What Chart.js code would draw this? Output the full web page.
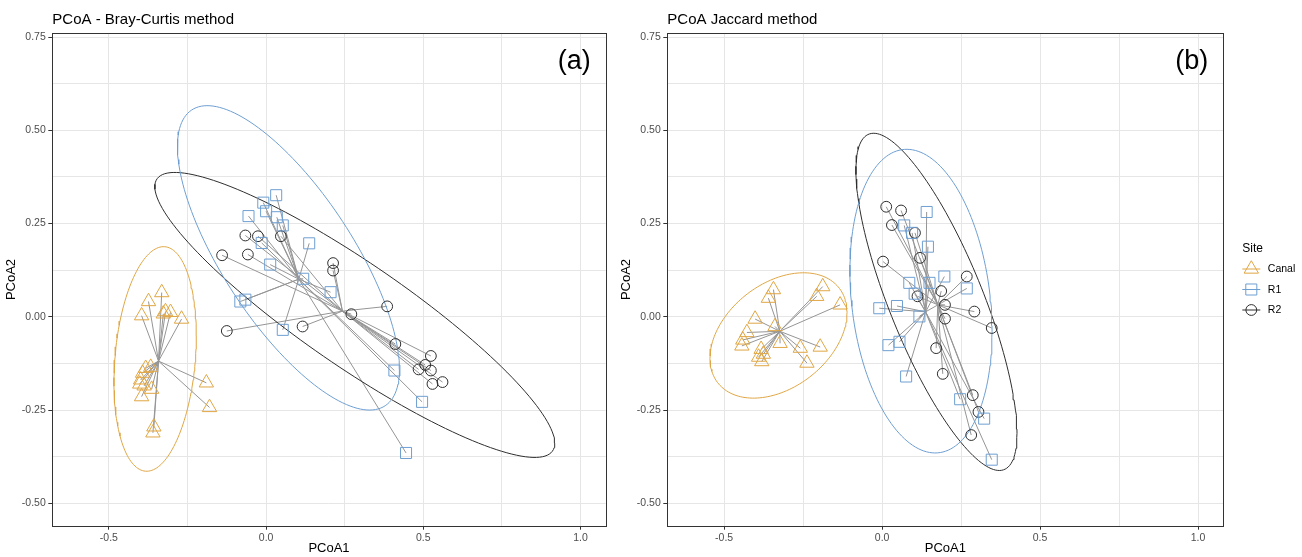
<!DOCTYPE html>
<html><head><meta charset="utf-8">
<script src="https://cdn.jsdelivr.net/npm/chart.js@4.4.1/dist/chart.umd.min.js"></script>
<style>
html,body{margin:0;padding:0;background:#fff;}
#wrap{position:relative;width:1302px;height:557px;overflow:hidden;}
canvas{position:absolute;top:0;}
#c1{left:0;}
#c2{left:615px;}
</style></head><body>
<div id="wrap">
<canvas id="c1" width="615" height="557"></canvas>
<canvas id="c2" width="687" height="557"></canvas>
</div>
<script>
// ---------- data ----------
const groups = ['Canal', 'R1', 'R2'];

// Panel (a) PCoA - Bray-Curtis
const bcCanalX = [-0.332,-0.374,-0.396,-0.320,-0.304,-0.327,-0.269,-0.383,-0.367,-0.393,-0.399,-0.402,-0.388,-0.364,-0.396,-0.190,-0.180,-0.357,-0.360];
const bcCanalY = [0.065,0.041,0.003,0.014,0.012,0.008,-0.006,-0.138,-0.135,-0.151,-0.169,-0.180,-0.185,-0.194,-0.214,-0.177,-0.243,-0.295,-0.311];
const bcR1X = [0.032,-0.009,0.000,-0.056,0.034,0.053,-0.014,0.137,0.013,0.118,0.205,-0.082,-0.066,0.053,0.408,0.496,0.445];
const bcR1Y = [0.326,0.306,0.283,0.270,0.267,0.245,0.198,0.197,0.140,0.102,0.066,0.041,0.046,-0.035,-0.144,-0.228,-0.365];
const bcR2X = [-0.066,-0.026,0.047,-0.140,-0.058,0.213,0.213,0.385,0.271,-0.125,0.116,0.411,0.524,0.506,0.485,0.524,0.561,0.529];
const bcR2Y = [0.218,0.216,0.216,0.165,0.167,0.144,0.124,0.028,0.007,-0.038,-0.026,-0.073,-0.105,-0.129,-0.141,-0.144,-0.175,-0.180];
// 95% ellipses (Canal, R1, R2): centre, half x-range, half y-range, correlation
const bcEllCX = [-0.353, 0.071, 0.282];
const bcEllCY = [-0.113, 0.158, 0.005];
const bcEllHX = [0.131, 0.353, 0.636];
const bcEllHY = [0.301, 0.408, 0.382];
const bcEllR  = [0.205, -0.731, -0.90];

// Panel (b) PCoA Jaccard
const jcCanalX = [-0.344,-0.360,-0.188,-0.207,-0.133,-0.402,-0.339,-0.428,-0.441,-0.444,-0.323,-0.259,-0.196,-0.383,-0.376,-0.391,-0.381,-0.238];
const jcCanalY = [0.073,0.050,0.081,0.055,0.032,-0.006,-0.026,-0.042,-0.062,-0.078,-0.071,-0.084,-0.081,-0.087,-0.100,-0.108,-0.120,-0.124];
const jcR1X = [0.141,0.070,0.095,0.145,0.197,0.086,0.150,0.268,0.103,0.047,-0.009,0.118,0.055,0.020,0.076,0.247,0.323,0.347];
const jcR1Y = [0.281,0.245,0.225,0.188,0.108,0.091,0.091,0.076,0.062,0.029,0.023,0.001,-0.067,-0.076,-0.160,-0.221,-0.273,-0.383];
const jcR2X = [0.013,0.060,0.031,0.104,0.120,0.003,0.268,0.187,0.112,0.199,0.292,0.199,0.347,0.171,0.192,0.287,0.305,0.282];
const jcR2Y = [0.295,0.285,0.246,0.225,0.158,0.148,0.108,0.069,0.055,0.032,0.014,-0.005,-0.030,-0.084,-0.153,-0.210,-0.255,-0.317];
const jcEllCX = [-0.328, 0.123, 0.172];
const jcEllCY = [-0.050, 0.042, 0.040];
const jcEllHX = [0.217, 0.225, 0.255];
const jcEllHY = [0.168, 0.407, 0.452];
const jcEllR  = [0.365, -0.20, -0.78];

// axes
const xTickValues = [-0.5, -0.25, 0, 0.25, 0.5, 0.75, 1.0];
const xTickLabels = ['-0.5', '', '0.0', '', '0.5', '', '1.0'];
const yTickValues = [-0.5, -0.375, -0.25, -0.125, 0, 0.125, 0.25, 0.375, 0.5, 0.625, 0.75];
const yTickLabels = ['-0.50', '', '-0.25', '', '0.00', '', '0.25', '', '0.50', '', '0.75'];

// ---------- styling ----------
const FONT = '"Liberation Sans", Arial, Helvetica, sans-serif';
const groupColors = ['#E0A644', '#6E9FD2', '#2E2E2E'];
const groupShapes = ['triangle', 'rect', 'circle'];
const groupRadius = [8.3, 7.8, 5.4];

function zip(xs, ys) { return xs.map((x, i) => ({x: x, y: ys[i]})); }
function mean(a) { return a.reduce((s, v) => s + v, 0) / a.length; }
function spider(xs, ys) {
  const cx = mean(xs), cy = mean(ys);
  const out = [];
  xs.forEach((x, i) => { out.push({x: x, y: ys[i]}, {x: cx, y: cy}, {x: null, y: null}); });
  return out;
}
function ellipse(cx, cy, hx, hy, r) {
  const pts = [], k = Math.sqrt(1 - r * r), n = 160;
  for (let i = 0; i <= n; i++) {
    const t = 2 * Math.PI * i / n;
    pts.push({x: cx + hx * Math.cos(t), y: cy + hy * (r * Math.cos(t) + k * Math.sin(t))});
  }
  return pts;
}

function buildDatasets(X, Y, E) {
  const ds = [];
  groups.forEach((g, i) => {
    ds.push({label: g + ' spider', data: spider(X[i], Y[i]), showLine: true, pointRadius: 0,
      borderColor: '#959595', borderWidth: 1, order: 3});
  });
  groups.forEach((g, i) => {
    ds.push({label: g + ' ellipse', data: ellipse(E.cx[i], E.cy[i], E.hx[i], E.hy[i], E.r[i]), showLine: true,
      pointRadius: 0, borderColor: groupColors[i], borderWidth: 1, tension: 0, order: 2});
  });
  groups.forEach((g, i) => {
    ds.push({label: g, data: zip(X[i], Y[i]), showLine: false, pointStyle: groupShapes[i],
      pointRadius: groupRadius[i], pointBorderColor: groupColors[i], pointBackgroundColor: 'rgba(0,0,0,0)',
      pointBorderWidth: 1, order: 1});
  });
  return ds;
}

const isMajorX = v => Math.abs(v * 2 - Math.round(v * 2)) < 1e-9;
const isMajorY = v => Math.abs(v * 4 - Math.round(v * 4)) < 1e-9;

const framePlugin = {
  id: 'frame',
  afterDraw(chart, args, opts) {
    const {ctx, chartArea: a} = chart;
    ctx.save();
    ctx.strokeStyle = '#333333';
    ctx.lineWidth = 1;
    ctx.strokeRect(Math.round(a.left) + 0.5, Math.round(a.top) + 0.5, Math.round(a.right) - Math.round(a.left), Math.round(a.bottom) - Math.round(a.top));
    ctx.fillStyle = '#000';
    ctx.font = '27px ' + FONT;
    ctx.textAlign = 'right';
    ctx.textBaseline = 'middle';
    ctx.fillText(opts.label, a.right - 15, a.top + 28);
    if (opts.legend) {
      const lx = a.right + 19;
      ctx.textAlign = 'left';
      ctx.font = '12px ' + FONT;
      ctx.fillText('Site', lx, 249);
      const rows = [269, 289.5, 310];
      groups.forEach((g, i) => {
        const cx = lx + 9, cy = rows[i];
        ctx.strokeStyle = groupColors[i];
        ctx.lineWidth = 1;
        ctx.beginPath(); ctx.moveTo(lx, cy); ctx.lineTo(lx + 18, cy); ctx.stroke();
        ctx.beginPath();
        const r = groupRadius[i];
        if (groupShapes[i] === 'triangle') {
          for (let k = 0; k < 3; k++) {
            const ang = k * 2 * Math.PI / 3;
            const px = cx + Math.sin(ang) * r, py = cy - Math.cos(ang) * r;
            if (k === 0) ctx.moveTo(px, py); else ctx.lineTo(px, py);
          }
          ctx.closePath();
        } else if (groupShapes[i] === 'rect') {
          const s = r * Math.SQRT1_2;
          ctx.rect(cx - s, cy - s, 2 * s, 2 * s);
        } else {
          ctx.arc(cx, cy, r, 0, 2 * Math.PI);
        }
        ctx.stroke();
        ctx.fillStyle = '#000';
        ctx.font = '10.5px ' + FONT;
        ctx.textBaseline = 'middle';
        ctx.fillText(g, lx + 25.5, cy + 0.5);
      });
    }
    ctx.restore();
  }
};

function makeChart(id, title, label, X, Y, E, padRight, legend) {
  return new Chart(document.getElementById(id), {
    type: 'scatter',
    data: {datasets: buildDatasets(X, Y, E)},
    plugins: [framePlugin],
    options: {
      responsive: false,
      animation: false,
      events: [],
      layout: {padding: {left: 0, right: padRight, top: 0, bottom: 0}},
      plugins: {
        legend: {display: false},
        tooltip: {enabled: false},
        title: {display: true, text: title, align: 'start', fullSize: false, color: '#000',
          font: {family: FONT, size: 15, weight: 'normal', lineHeight: 1.2}, padding: {top: 11, bottom: 4.3}},
        frame: {label: label, legend: legend}
      },
      scales: {
        x: {
          type: 'linear', min: -0.68, max: 1.08,
          afterBuildTicks: s => { s.ticks = xTickValues.map(v => ({value: v})); },
          afterFit: s => { s.height = 31.3; },
          ticks: {autoSkip: false, maxRotation: 0, padding: 2, color: '#4D4D4D',
            font: {family: FONT, size: 10.5}, callback: (v, i) => xTickLabels[i]},
          grid: {color: '#E6E6E6', lineWidth: 1, tickLength: 4,
            tickColor: c => (c.tick && isMajorX(c.tick.value)) ? '#333333' : 'rgba(0,0,0,0)'},
          border: {display: false},
          title: {display: true, text: 'PCoA1', color: '#000', font: {family: FONT, size: 13, lineHeight: 1.2},
            padding: {top: 0, bottom: 1.2}}
        },
        y: {
          type: 'linear', min: -0.56, max: 0.76,
          afterBuildTicks: s => { s.ticks = yTickValues.map(v => ({value: v})); },
          afterFit: s => { s.width = 52.3; },
          ticks: {autoSkip: false, padding: 2.5, color: '#4D4D4D',
            font: {family: FONT, size: 10.5}, callback: (v, i) => yTickLabels[i]},
          grid: {color: '#E6E6E6', lineWidth: 1, tickLength: 4,
            tickColor: c => (c.tick && isMajorY(c.tick.value)) ? '#333333' : 'rgba(0,0,0,0)'},
          border: {display: false},
          title: {display: true, text: 'PCoA2', color: '#000', font: {family: FONT, size: 13, lineHeight: 1.2},
            padding: {top: 4, bottom: 0}}
        }
      }
    }
  });
}

makeChart('c1', 'PCoA - Bray-Curtis method', '(a)',
  [bcCanalX, bcR1X, bcR2X], [bcCanalY, bcR1Y, bcR2Y],
  {cx: bcEllCX, cy: bcEllCY, hx: bcEllHX, hy: bcEllHY, r: bcEllR}, 6.7, false);
makeChart('c2', 'PCoA Jaccard method', '(b)',
  [jcCanalX, jcR1X, jcR2X], [jcCanalY, jcR1Y, jcR2Y],
  {cx: jcEllCX, cy: jcEllCY, hx: jcEllHX, hy: jcEllHY, r: jcEllR}, 78.7, true);
</script>
</body></html>
